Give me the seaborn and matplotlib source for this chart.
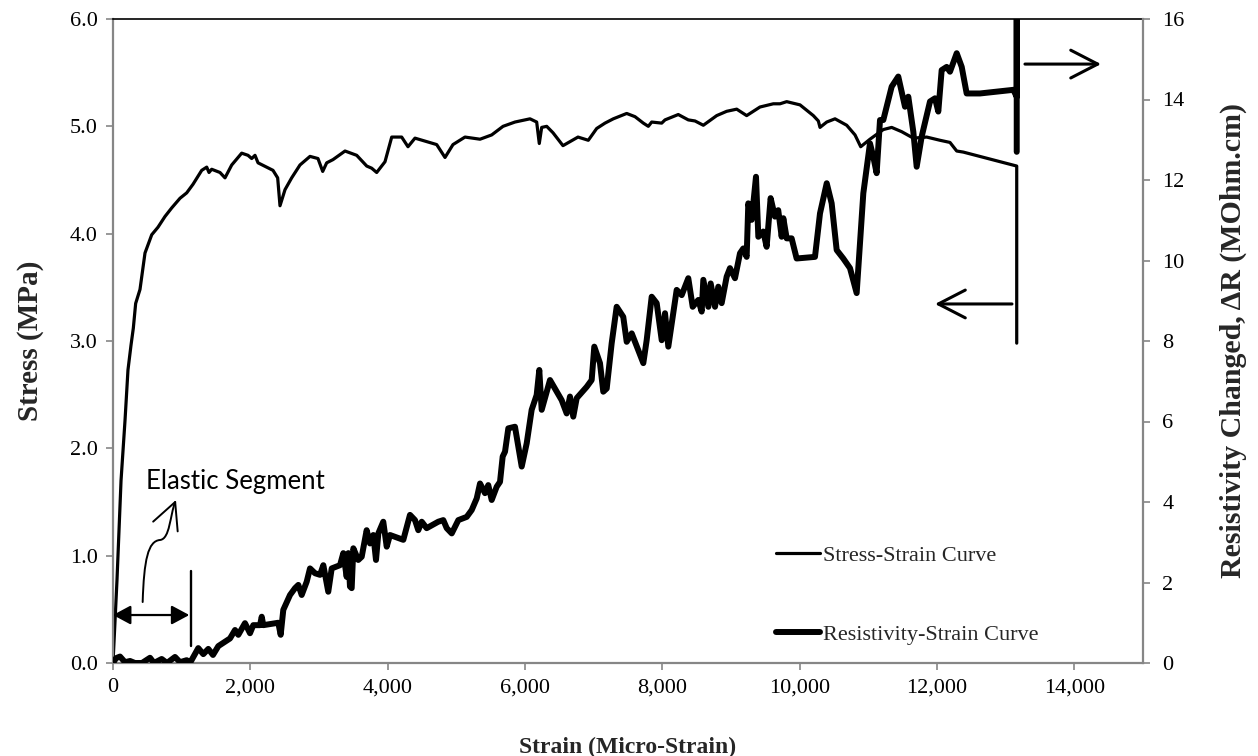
import numpy as np
import pandas as pd
import seaborn as sns
import matplotlib
matplotlib.use("Agg")
import matplotlib.pyplot as plt
from matplotlib.path import Path
from matplotlib.patches import FancyArrowPatch
from matplotlib.lines import Line2D
from matplotlib.ticker import FuncFormatter

# ---------------- data ----------------
stress_strain = [0, 58, 117, 175, 218, 262, 296, 330, 393, 466, 564, 655, 757, 855, 976, 1073,
                 1165, 1292, 1365, 1398, 1437, 1558, 1631, 1729, 1874, 1966, 2020, 2068, 2112,
                 2330, 2398, 2432, 2505, 2602, 2723, 2869, 2985, 3054, 3112, 3204, 3379, 3549,
                 3695, 3767, 3840, 3961, 4059, 4204, 4296, 4398, 4714, 4835, 4951, 5126, 5345,
                 5515, 5680, 5854, 6073, 6170, 6208, 6243, 6316, 6408, 6553, 6772, 6922, 7044,
                 7165, 7286, 7481, 7602, 7723, 7796, 7845, 7991, 8039, 8232, 8378, 8476, 8597,
                 8792, 8937, 9083, 9228, 9422, 9616, 9714, 9811, 10005, 10199, 10272, 10296,
                 10394, 10515, 10685, 10806, 10889, 11024, 11218, 11340, 11486, 11655, 11850,
                 12044, 12189, 12287, 12383, 13161, 13161]
stress_mpa = [0, 0.77, 1.70, 2.26, 2.73, 2.96, 3.12, 3.35, 3.48, 3.82, 3.99, 4.06, 4.16, 4.24,
              4.33, 4.38, 4.46, 4.59, 4.62, 4.57, 4.60, 4.57, 4.52, 4.64, 4.75, 4.73, 4.70, 4.73,
              4.66, 4.59, 4.52, 4.26, 4.41, 4.52, 4.64, 4.72, 4.70, 4.58, 4.66, 4.69, 4.77, 4.73,
              4.63, 4.61, 4.57, 4.67, 4.90, 4.90, 4.81, 4.89, 4.83, 4.71, 4.83, 4.90, 4.88, 4.92,
              5.00, 5.04, 5.07, 5.04, 4.84, 4.99, 5.00, 4.94, 4.82, 4.90, 4.87, 4.98, 5.03, 5.07,
              5.12, 5.09, 5.03, 5.00, 5.04, 5.03, 5.06, 5.11, 5.06, 5.05, 5.01, 5.10, 5.14, 5.16,
              5.10, 5.18, 5.21, 5.21, 5.23, 5.20, 5.10, 5.05, 4.99, 5.04, 5.07, 5.01, 4.92, 4.81,
              4.88, 4.97, 4.99, 4.95, 4.89, 4.90, 4.87, 4.85, 4.77, 4.76, 4.63, 2.98]

resist_strain = [0, 44, 102, 175, 248, 320, 422, 539, 597, 709, 786, 903, 976, 1073, 1121, 1242,
                 1315, 1388, 1456, 1534, 1631, 1704, 1777, 1825, 1922, 1995, 2043, 2141, 2166,
                 2189, 2407, 2442, 2480, 2578, 2651, 2699, 2748, 2821, 2869, 2942, 3015, 3063,
                 3135, 3185, 3306, 3354, 3403, 3427, 3451, 3476, 3500, 3572, 3622, 3694, 3743,
                 3791, 3830, 3864, 3936, 3986, 4034, 4228, 4325, 4398, 4446, 4496, 4568, 4737,
                 4810, 4860, 4933, 5029, 5151, 5224, 5297, 5345, 5417, 5465, 5515, 5588, 5636,
                 5675, 5709, 5757, 5854, 5952, 6025, 6097, 6170, 6208, 6243, 6364, 6534, 6607,
                 6655, 6703, 6753, 6898, 6971, 7009, 7092, 7140, 7190, 7262, 7335, 7431, 7481,
                 7554, 7723, 7772, 7845, 7918, 7991, 8039, 8087, 8209, 8282, 8378, 8442, 8524,
                 8573, 8597, 8670, 8704, 8767, 8815, 8864, 8937, 8985, 9058, 9131, 9179, 9228,
                 9252, 9301, 9364, 9398, 9470, 9519, 9577, 9640, 9688, 9738, 9762, 9811, 9883,
                 9956, 10223, 10296, 10394, 10466, 10539, 10635, 10733, 10830, 10927, 11024,
                 11072, 11121, 11170, 11218, 11340, 11436, 11486, 11534, 11582, 11655, 11704,
                 11777, 11898, 11971, 12019, 12068, 12141, 12189, 12287, 12360, 12432, 12626,
                 13111, 13161, 13161, 13161]
resist_mohm = [0, 0.12, 0.16, 0.02, 0.05, 0, 0, 0.13, 0, 0.10, 0, 0.15, 0.02, 0.07, 0, 0.37,
               0.22, 0.35, 0.20, 0.42, 0.53, 0.61, 0.82, 0.70, 0.99, 0.74, 0.94, 0.94, 1.15,
               0.94, 1.00, 0.70, 1.32, 1.69, 1.86, 1.94, 1.69, 2.02, 2.35, 2.23, 2.19, 2.43,
               1.77, 2.35, 2.43, 2.73, 2.14, 2.73, 1.90, 1.86, 2.85, 2.56, 2.64, 3.30, 2.97,
               3.18, 2.56, 3.22, 3.51, 2.89, 3.18, 3.06, 3.68, 3.55, 3.30, 3.51, 3.35, 3.51,
               3.55, 3.35, 3.22, 3.55, 3.63, 3.80, 4.09, 4.46, 4.22, 4.42, 4.05, 4.38, 4.50,
               5.13, 5.25, 5.83, 5.87, 4.88, 5.46, 6.29, 6.66, 7.28, 6.29, 7.03, 6.53, 6.20,
               6.62, 6.12, 6.58, 6.86, 7.03, 7.86, 7.45, 6.74, 6.82, 7.94, 8.85, 8.60, 7.98,
               8.19, 7.45, 8.02, 9.10, 8.94, 8.02, 8.69, 7.86, 9.27, 9.14, 9.56, 8.85, 9.02,
               8.73, 9.52, 8.85, 9.43, 8.85, 9.35, 8.94, 9.60, 9.81, 9.56, 10.18, 10.30, 10.09,
               11.42, 11.01, 12.08, 10.59, 10.72, 10.34, 11.55, 11.09, 11.25, 10.59, 11.05, 10.55,
               10.55, 10.05, 10.09, 11.17, 11.92, 11.42, 10.26, 10.05, 9.81, 9.19, 11.67, 12.91,
               12.58, 12.17, 13.49, 13.49, 14.32, 14.57, 14.19, 13.82, 14.07, 13.20, 12.33,
               13.08, 13.95, 14.03, 13.70, 14.73, 14.81, 14.69, 15.15, 14.81, 14.15, 14.15,
               14.24, 14.07, 16.00, 12.70]

x_ticks = [0, 2000, 4000, 6000, 8000, 10000, 12000, 14000]
stress_ticks = [0.0, 1.0, 2.0, 3.0, 4.0, 5.0, 6.0]
resist_ticks = [0, 2, 4, 6, 8, 10, 12, 14, 16]

legend_labels = ["Stress-Strain Curve", "Resistivity-Strain Curve"]

# ---------------- styling ----------------
sns.set_theme(style="white")
plt.rcParams["font.family"] = ["Liberation Serif", "DejaVu Serif"]

GRAY = "#868686"

fig = plt.figure(figsize=(12.58, 7.56), dpi=100)
ax = fig.add_axes([113 / 1258, 1 - 663 / 756, (1143 - 113) / 1258, (663 - 19) / 756])
ax2 = ax.twinx()

df_s = pd.DataFrame({"strain": stress_strain, "stress": stress_mpa})
df_r = pd.DataFrame({"strain": resist_strain, "res": resist_mohm})

sns.lineplot(data=df_s, x="strain", y="stress", ax=ax, color="black", linewidth=2.3,
             sort=False, estimator=None)
sns.lineplot(data=df_r, x="strain", y="res", ax=ax2, color="black", linewidth=4.3,
             sort=False, estimator=None)
for ln in ax2.get_lines():
    ln.set_solid_joinstyle("round")
    ln.set_solid_capstyle("round")

ax.set_xlim(0, 15000)
ax.set_ylim(0, 6)
ax2.set_ylim(0, 16)

ax.set_xticks(x_ticks)
ax.xaxis.set_major_formatter(FuncFormatter(lambda v, p: f"{int(v):,}"))
ax.set_yticks(stress_ticks)
ax.yaxis.set_major_formatter(FuncFormatter(lambda v, p: f"{v:.1f}"))
ax2.set_yticks(resist_ticks)

for a in (ax, ax2):
    a.tick_params(axis="both", which="major", direction="out", length=5, width=1.2,
                  color=GRAY, labelsize=16, labelcolor="black")
    for side in ("left", "right", "bottom"):
        a.spines[side].set_color(GRAY)
        a.spines[side].set_linewidth(1.6)
    a.grid(False)
ax.tick_params(axis="x", pad=6, bottom=True)
ax.tick_params(axis="y", pad=6, left=True)
ax2.tick_params(axis="y", pad=9, right=True)
ax.spines["right"].set_visible(False)
ax2.spines["left"].set_visible(False)
ax2.spines["bottom"].set_visible(False)
ax.spines["top"].set_color("black")
ax.spines["top"].set_linewidth(1.2)
ax2.spines["top"].set_visible(False)

ax.set_xlabel("Strain (Micro-Strain)", fontsize=17, fontweight="bold")
ax.set_ylabel("Stress (MPa)", fontsize=21, fontweight="bold")
ax2.set_ylabel("Resistivity Changed, ΔR (MOhm.cm)", fontsize=21.5, fontweight="bold",
               rotation=90)
ax.xaxis.set_label_coords(0.5, -0.115)
ax.yaxis.set_label_coords(-0.067, 0.5)
ax2.yaxis.set_label_coords(1.074, 0.5)

# ---------------- annotations (in stress-axis data coordinates) ----------------
ms = 20
ax.annotate("", xy=(14389, 5.58), xytext=(13281, 5.58),
            arrowprops=dict(arrowstyle=f"->,head_length={19.4/ms},head_width={10/ms}",
                            mutation_scale=ms, lw=2.2, color="black",
                            shrinkA=0, shrinkB=0))
ax.annotate("", xy=(11971, 3.345), xytext=(13092, 3.345),
            arrowprops=dict(arrowstyle=f"->,head_length={19.4/ms},head_width={10/ms}",
                            mutation_scale=ms, lw=2.2, color="black",
                            shrinkA=0, shrinkB=0))
# elastic segment double arrow
ax.annotate("", xy=(0, 0.447), xytext=(1111, 0.447),
            arrowprops=dict(arrowstyle=f"<|-|>,head_length={10.8/ms},head_width={5.8/ms}",
                            mutation_scale=ms, lw=1.6, color="black",
                            shrinkA=0, shrinkB=0))
ax.plot([1141, 1141], [0.156, 0.857], color="black", lw=1.7)

# curved arrow to the label
verts = [(432, 0.568), (451, 0.960), (510, 1.137), (684, 1.146),
         (830, 1.155), (830, 1.379), (917, 1.519)]
codes = [Path.MOVETO, Path.CURVE4, Path.CURVE4, Path.CURVE4,
         Path.CURVE4, Path.CURVE4, Path.CURVE4]
curve = FancyArrowPatch(path=Path(verts, codes),
                        arrowstyle=f"->,head_length={19/ms},head_width={9.5/ms}",
                        mutation_scale=ms, lw=1.4, color="black",
                        transform=ax.transData)
ax.add_patch(curve)

ax.text(480, 1.57, "Elastic Segment", fontsize=18.5, family=["Lato", "DejaVu Sans"],
        ha="left", va="bottom", color="black")

# ---------------- legend ----------------
handles = [Line2D([], [], color="black", lw=2.3), Line2D([], [], color="black", lw=4.3)]
leg = ax2.legend(handles, legend_labels, loc="upper left",
                 bbox_to_anchor=((776 - 113) / 1030, (663 - 545) / 644),
                 frameon=False, fontsize=16, handlelength=2.0, handletextpad=0.1,
                 labelspacing=2.65, borderpad=0, borderaxespad=0)

fig.savefig("out.png", dpi=100)
